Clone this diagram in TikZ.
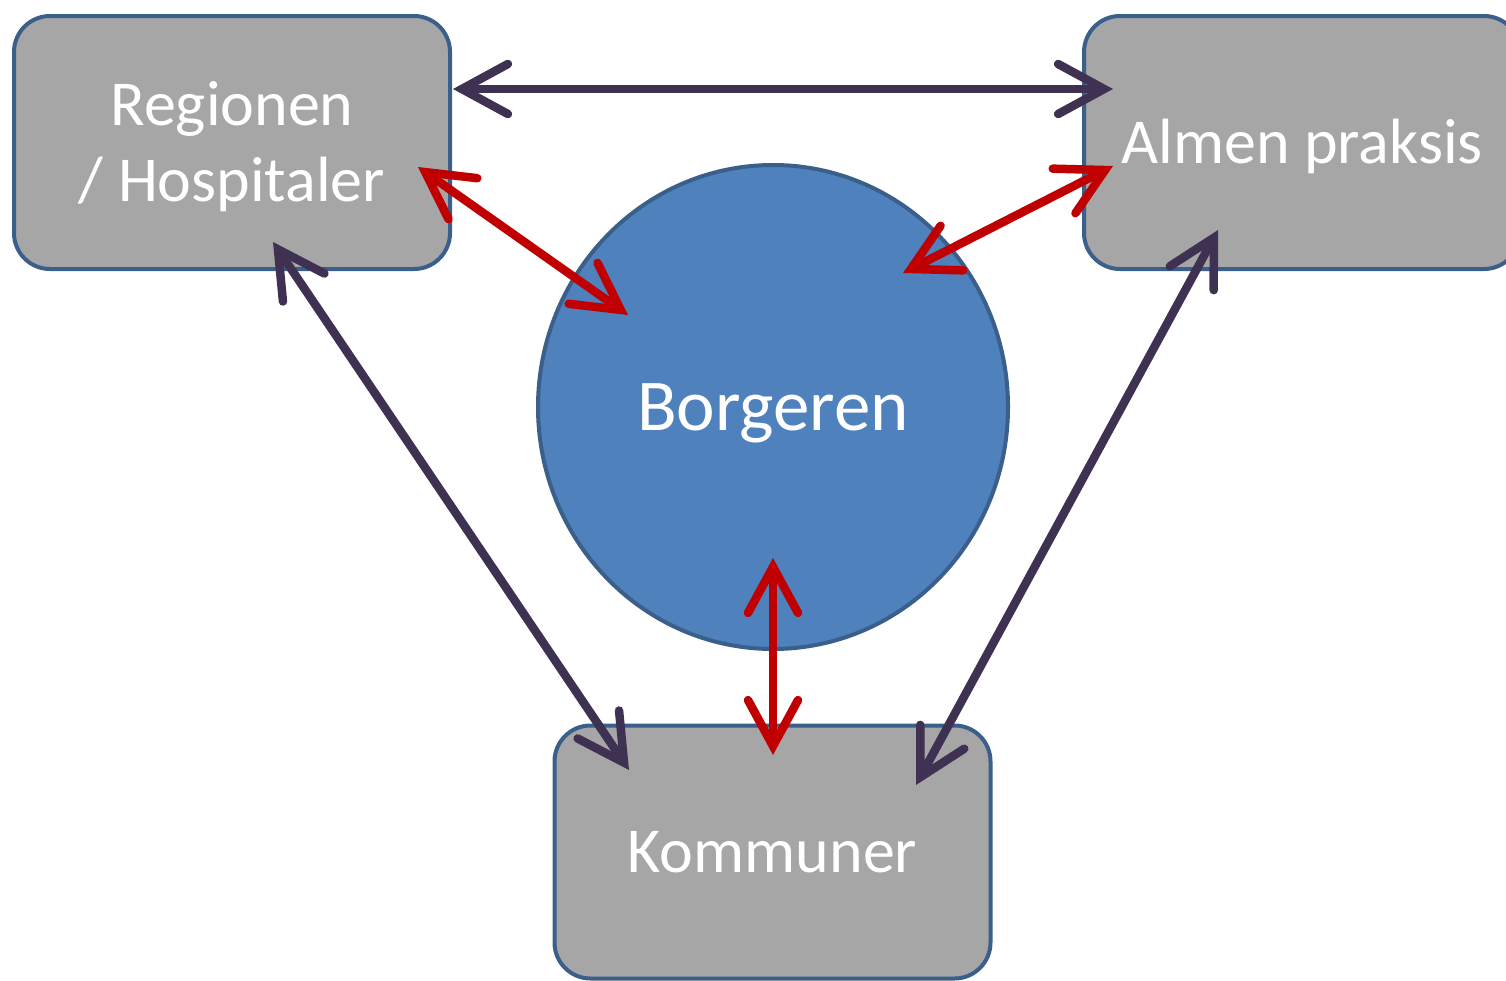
\documentclass[tikz,border=0pt]{standalone}
\usepackage{fontspec}
\setmainfont{Carlito}
\usetikzlibrary{arrows.meta,shapes.geometric}
\definecolor{boxfill}{HTML}{A6A6A6}
\definecolor{boxline}{HTML}{3A5F8B}
\definecolor{circfill}{HTML}{4F81BD}
\definecolor{darkarr}{HTML}{3F3151}
\definecolor{redarr}{HTML}{C00000}
\begin{document}
\begin{tikzpicture}[x=1pt,y=-1pt,
  box/.style={draw=boxline, line width=4pt, fill=boxfill, rounded corners=36pt,
    minimum width=436pt, minimum height=253pt, inner sep=0pt, text=white,
    font=\fontsize{64}{76}\selectfont, align=center, text height=41pt, text depth=0pt},
  circ/.style={ellipse, draw=boxline, line width=4pt, fill=circfill,
    minimum width=470pt, minimum height=484pt, inner sep=0pt, text=white,
    font=\fontsize{73}{88}\selectfont, text height=46pt, text depth=0pt},
  barb/.tip={Straight Barb[length=46pt, width=50pt, line cap=round]},
  darr/.style={draw=darkarr, line width=8.5pt, barb-barb},
  rarr/.style={draw=redarr, line width=8.5pt, barb-barb}]
\useasboundingbox (0,0) rectangle (1506,980);
\node[box, text height=117pt, text depth=0pt] (reg) at (232,142.5) {Regionen\\/ Hospitaler};
\node[box] (alm) at (1302,142.5) {Almen praksis};
\node[box] (kom) at (772.5,852) {Kommuner};
\node[circ] (bor) at (773,407) {Borgeren};
\coordinate (r1) at (453,89);
\coordinate (a1) at (1113,89);
\coordinate (r2) at (418,167);
\coordinate (b1) at (628,315);
\coordinate (a2) at (1113,166);
\coordinate (b2) at (903,273);
\coordinate (b3) at (773,558);
\coordinate (k1) at (773,755);
\coordinate (r3) at (273,242);
\coordinate (k2) at (629,770);
\coordinate (a3) at (1218,230);
\coordinate (k3) at (916,785);
\draw[darr] (r1) -- (a1);
\draw[darr] (r3) -- (k2);
\draw[darr] (a3) -- (k3);
\draw[rarr] (r2) -- (b1);
\draw[rarr] (a2) -- (b2);
\draw[rarr] (b3) -- (k1);
\end{tikzpicture}
\end{document}
